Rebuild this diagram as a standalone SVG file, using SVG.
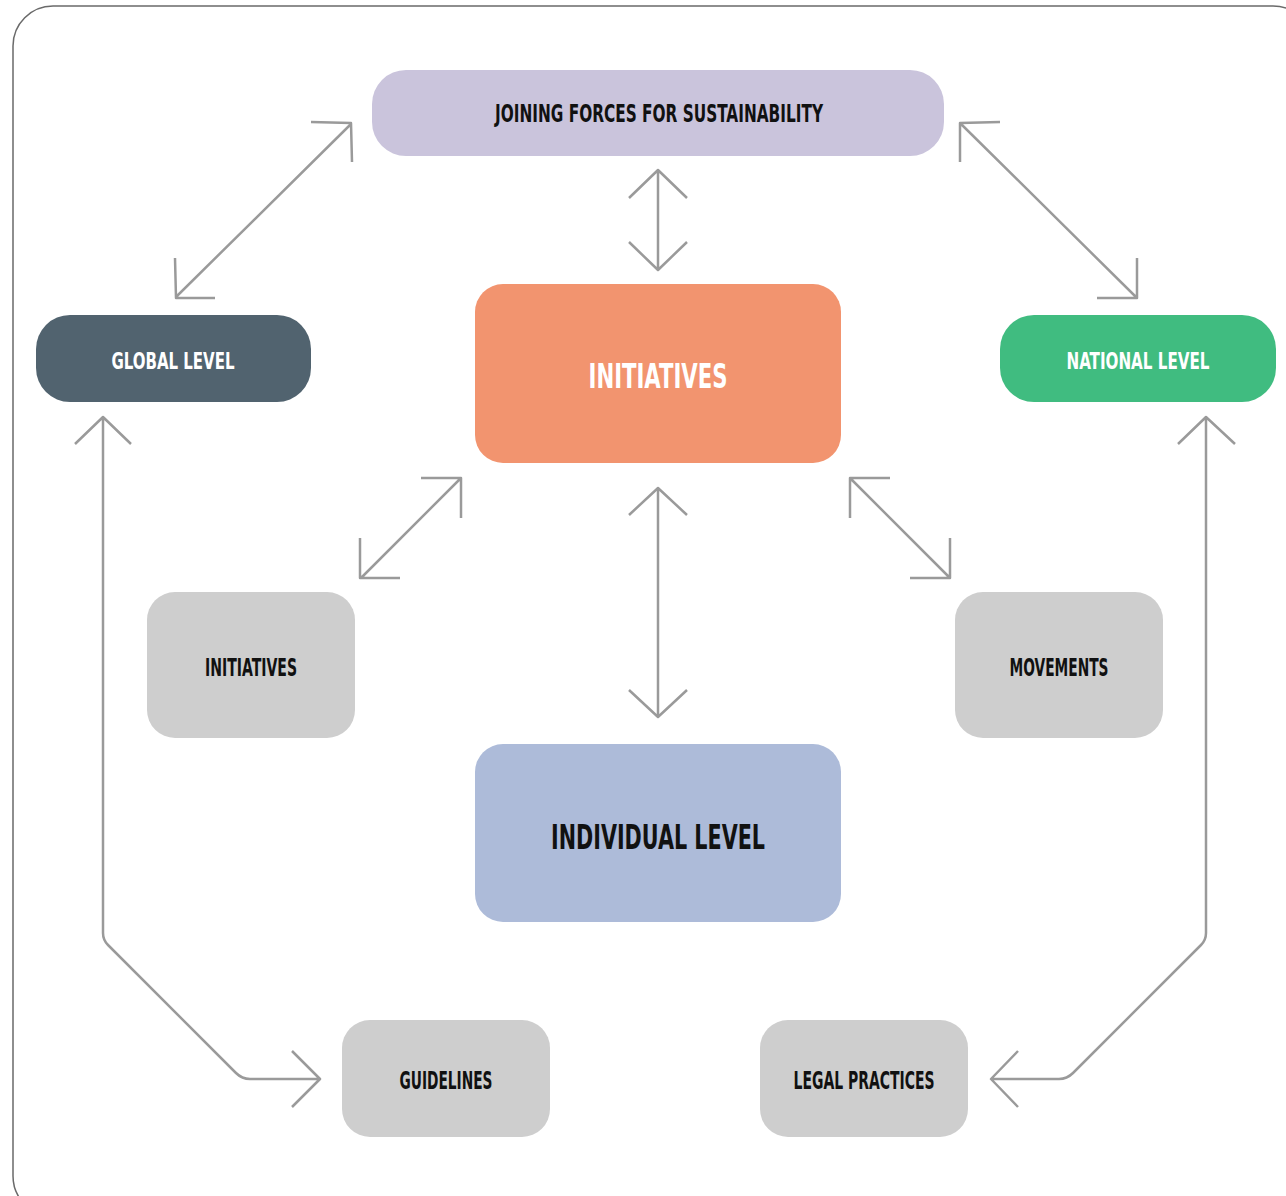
<svg xmlns="http://www.w3.org/2000/svg" width="1286" height="1196" viewBox="0 0 1286 1196">
<style>
.t{font-family:"Liberation Sans Narrow","DejaVu Sans Condensed","Liberation Sans",sans-serif;font-weight:bold;font-stretch:condensed;text-anchor:middle}
.dk{fill:#111}
.wh{fill:#fff}
.c{fill:none;stroke:#9a9a9a;stroke-width:2.5;stroke-linejoin:round;stroke-linecap:butt}
</style>
<rect x="13" y="6" width="1300" height="1210" rx="40" fill="#fff" stroke="#6a6a6a" stroke-width="1.5"/>
<g id="connectors">
<path class="c" d="M176,297 L351,124 M311,122 L351,123 L352,162 M175,258 L176,298 L215,298"/>
<path class="c" d="M960,123 L1136,297 M1000,122 L960,123 L960,162 M1137,258 L1137,298 L1097,298"/>
<path class="c" d="M658,170 L658,270 M629,198 L658,170 L687,198 M629,242 L658,270 L687,242"/>
<path class="c" d="M361,578 L461,478 M421,478 L461,478 L461,518 M360,538 L360,578 L400,578"/>
<path class="c" d="M850,478 L950,578 M890,478 L850,478 L850,518 M950,538 L950,578 L910,578"/>
<path class="c" d="M658,488 L658,717 M629,515 L658,488 L687,515 M629,690 L658,717 L687,690"/>
<path class="c" d="M103,417 L103,933 Q103,940 108,945 L236,1073 Q242,1079 250,1079 L320,1079 M75,444 L103,417 L131,444 M292,1051 L320,1079 L292,1107"/>
<path class="c" d="M1206,417 L1206,933 Q1206,940 1201,945 L1073,1073 Q1067,1079 1059,1079 L991,1079 M1178,444 L1206,417 L1235,444 M1018,1051 L991,1079 L1018,1107"/>
</g>
<g id="joining">
<rect x="372" y="70" width="572" height="86" rx="34" fill="#cac4dc"/>
<text class="t dk" x="659" y="122" font-size="25" textLength="328" lengthAdjust="spacingAndGlyphs">JOINING FORCES FOR SUSTAINABILITY</text>
</g>
<g id="global">
<rect x="36" y="315" width="275" height="87" rx="34" fill="#51636f"/>
<text class="t wh" x="173" y="369" font-size="23" textLength="123" lengthAdjust="spacingAndGlyphs">GLOBAL LEVEL</text>
</g>
<g id="national">
<rect x="1000" y="315" width="276" height="87" rx="34" fill="#40bc80"/>
<text class="t wh" x="1138" y="369" font-size="23" textLength="143" lengthAdjust="spacingAndGlyphs">NATIONAL LEVEL</text>
</g>
<g id="initiatives-center">
<rect x="475" y="284" width="366" height="179" rx="28" fill="#f2946f"/>
<text class="t wh" x="658" y="388" font-size="34" textLength="139" lengthAdjust="spacingAndGlyphs">INITIATIVES</text>
</g>
<g id="initiatives-left">
<rect x="147" y="592" width="208" height="146" rx="28" fill="#cecece"/>
<text class="t dk" x="251" y="676" font-size="24" textLength="92" lengthAdjust="spacingAndGlyphs">INITIATIVES</text>
</g>
<g id="movements">
<rect x="955" y="592" width="208" height="146" rx="28" fill="#cecece"/>
<text class="t dk" x="1059" y="676" font-size="24" textLength="99" lengthAdjust="spacingAndGlyphs">MOVEMENTS</text>
</g>
<g id="individual">
<rect x="475" y="744" width="366" height="178" rx="28" fill="#adbbd9"/>
<text class="t dk" x="658" y="849" font-size="34" textLength="214" lengthAdjust="spacingAndGlyphs">INDIVIDUAL LEVEL</text>
</g>
<g id="guidelines">
<rect x="342" y="1020" width="208" height="117" rx="28" fill="#cecece"/>
<text class="t dk" x="446" y="1089" font-size="24" textLength="93" lengthAdjust="spacingAndGlyphs">GUIDELINES</text>
</g>
<g id="legal">
<rect x="760" y="1020" width="208" height="117" rx="28" fill="#cecece"/>
<text class="t dk" x="864" y="1089" font-size="24" textLength="141" lengthAdjust="spacingAndGlyphs">LEGAL PRACTICES</text>
</g>
</svg>
